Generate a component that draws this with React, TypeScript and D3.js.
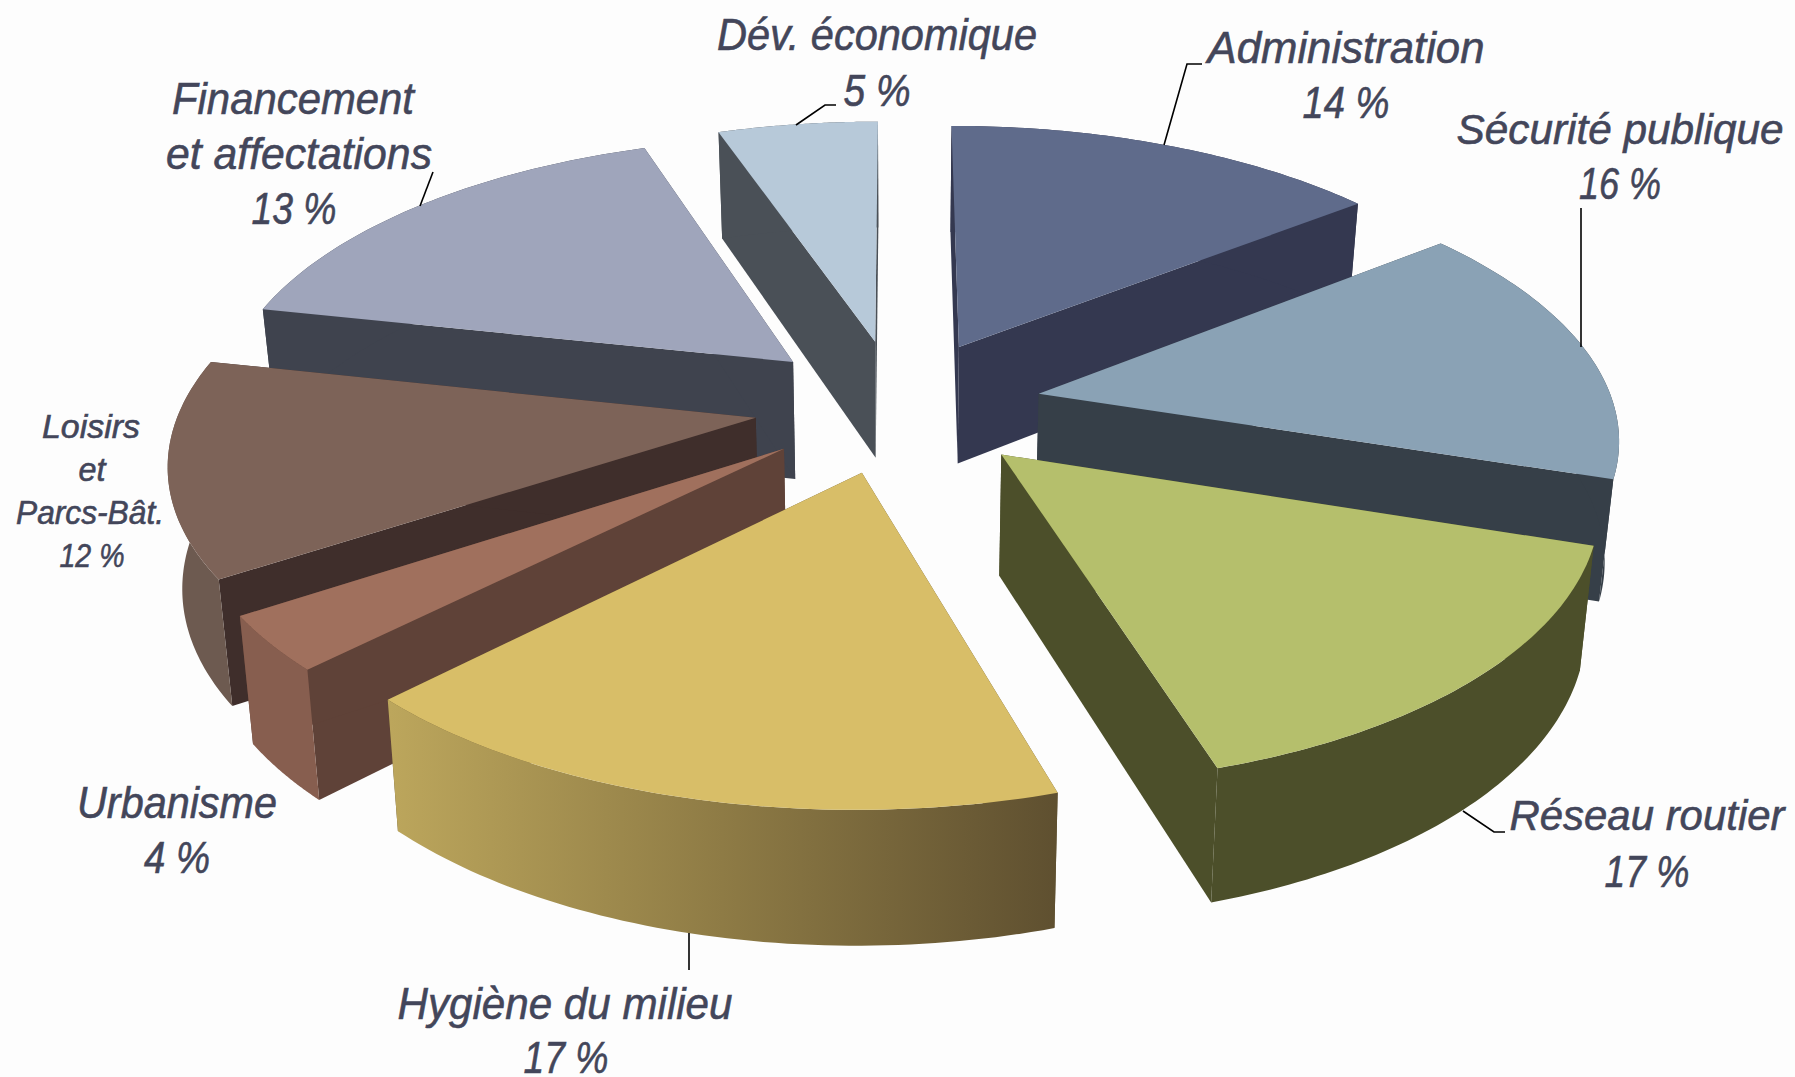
import React from "react";
import * as d3 from "d3";

// ---- data
const categories = ["Administration", "Sécurité publique", "Réseau routier", "Hygiène du milieu", "Urbanisme", "Loisirs et Parcs-Bât.", "Financement et affectations", "Dév. économique"];
const printedPercents = [14, 16, 17, 17, 4, 12, 13, 5];
// share of the circle that each wedge really occupies in the drawing
const wedgeShares = [14.4, 15.6, 15.3, 17.2, 3.25, 12.65, 16.35, 5.25];

// ---- styles
const topColors = ["#5F6B8B", "#8AA2B5", "#B5BF6C", "#D8BE68", "#A0705D", "#7D6358", "#9FA5BB", "#B7C9D9"];
const radialColors = ["#343850", "#363F48", "#4C4F2A", "#5F5030", "#5F4238", "#3F2E2B", "#3F434E", "#4A5057"];
const outerColors = ["#343850", "#363F48", "#4C4F2A", "url(#hyg)", "#875E4F", "#6D5A50", "#3F434E", "#4A5057"];
const ink = "#43465A";

// ---- label layout: [text, centre x, baseline y, width, size]
type L = [string, number, number, number, number];
const labelLayout: L[][] = [
  [["Administration", 1346, 63, 277, 45], ["14 %", 1346, 118, 87, 45]],
  [["Sécurité publique", 1620, 144, 327, 42], ["16 %", 1620, 199, 82, 45]],
  [["Réseau routier", 1647, 830, 275, 43], ["17 %", 1647, 887, 85, 45]],
  [["Hygiène du milieu", 565, 1019, 335, 45], ["17 %", 566, 1073, 85, 45]],
  [["Urbanisme", 177, 818, 200, 45], ["4 %", 177, 873, 66, 45]],
  [["Loisirs", 91, 438, 98, 33], ["et", 92, 481, 27, 33], ["Parcs-Bât.", 90, 524, 148, 33], ["12 %", 92, 567, 65, 33]],
  [["Financement", 293, 114, 242, 45], ["et affectations", 299, 169, 266, 45], ["13 %", 294, 224, 85, 45]],
  [["Dév. économique", 877, 50, 320, 45], ["5 %", 877, 106, 67, 45]],
];
const leaders: [number, number][][] = [
  [[1164, 145], [1187, 64], [1202, 64]],
  [[1581, 347], [1581, 208]],
  [[1463, 811], [1494, 832], [1505, 832]],
  [[689, 933], [689, 970]],
  [[420, 206], [433, 172]],
  [[796, 125], [825, 105], [836, 105]],
];

// ---- projection
const CX = 898, CY = 405.5, SX = 575, SY = 268, K = 0.142, DEPTH = 119, DEPTH_K = 0.1, SHRINK = 0.98, EXPLODE = 0.25;
const START = 0;
const xScale = d3.scaleLinear().domain([0, 1]).range([0, SX]);
const yScale = d3.scaleLinear().domain([0, 1]).range([0, SY]);

type P = [number, number];
const top = (X: number, Y: number): P => {
  const w = 1 - K * Y;
  return [CX + xScale(X) / w, CY + yScale(Y) / w];
};
const bottom = (X: number, Y: number): P => {
  const [x, y] = top(X, Y);
  return [CX + (x - CX) * SHRINK, y + DEPTH / (1 - DEPTH_K * Y)];
};

const lineGen = d3.line<P>();
const closed = (pts: P[]) => lineGen(pts) + "Z";

const arcs = d3.pie<number>().sort(null).startAngle(START).endAngle(START + 2 * Math.PI)(wedgeShares);

const slices = arcs.map((a, i) => {
  const mid = (a.startAngle + a.endAngle) / 2;
  const ox = EXPLODE * Math.sin(mid);
  const oy = -EXPLODE * Math.cos(mid);
  const rim = d3.range(0, 61).map((t) => {
    const th = a.startAngle + ((a.endAngle - a.startAngle) * t) / 60;
    return [ox + Math.sin(th), oy - Math.cos(th)] as P;
  });
  const apexT = top(ox, oy);
  const apexB = bottom(ox, oy);
  const rimT = rim.map((p) => top(p[0], p[1]));
  const rimB = rim.map((p) => bottom(p[0], p[1]));
  return {
    i,
    oy,
    topFace: closed([apexT, ...rimT]),
    outer: closed([...rimT, ...rimB.slice().reverse()]),
    wallA: closed([apexT, rimT[0], rimB[0], apexB]),
    wallB: closed([apexT, rimT[60], rimB[60], apexB]),
  };
});
const order = slices.slice().sort((p, q) => d3.ascending(p.oy, q.oy));

export default function App() {
  return (
    <svg width={1795} height={1077} style={{ position: "absolute", left: 0, top: 0, display: "block" }}>
      <defs>
        <linearGradient id="hyg" gradientUnits="userSpaceOnUse" x1={390} y1={0} x2={1055} y2={0}>
          <stop offset="0" stopColor="#BCA65C" />
          <stop offset="0.5" stopColor="#8E7B45" />
          <stop offset="1" stopColor="#5F5030" />
        </linearGradient>
      </defs>
      <rect width={1795} height={1077} fill="#FDFDFD" />
      {order.map((s) => (
        <g key={s.i} data-name={categories[s.i]} data-printed={printedPercents[s.i]}>
          <path d={s.wallA} fill={radialColors[s.i]} />
          <path d={s.wallB} fill={radialColors[s.i]} />
          <path d={s.outer} fill={outerColors[s.i]} />
          <path d={s.topFace} fill={topColors[s.i]} />
        </g>
      ))}
      {leaders.map((l, i) => (
        <path key={i} d={lineGen(l) as string} fill="none" stroke="#000" strokeWidth={1.6} />
      ))}
      {labelLayout.flat().map((l, i) => (
        <text
          key={i}
          x={l[1]}
          y={l[2]}
          textAnchor="middle"
          textLength={l[3]}
          lengthAdjust="spacingAndGlyphs"
          fontFamily="'Liberation Sans', Arial, sans-serif"
          fontStyle="italic"
          fontSize={l[4]}
          fill={ink}
          stroke={ink}
          strokeWidth={0.6}
        >
          {l[0]}
        </text>
      ))}
    </svg>
  );
}
